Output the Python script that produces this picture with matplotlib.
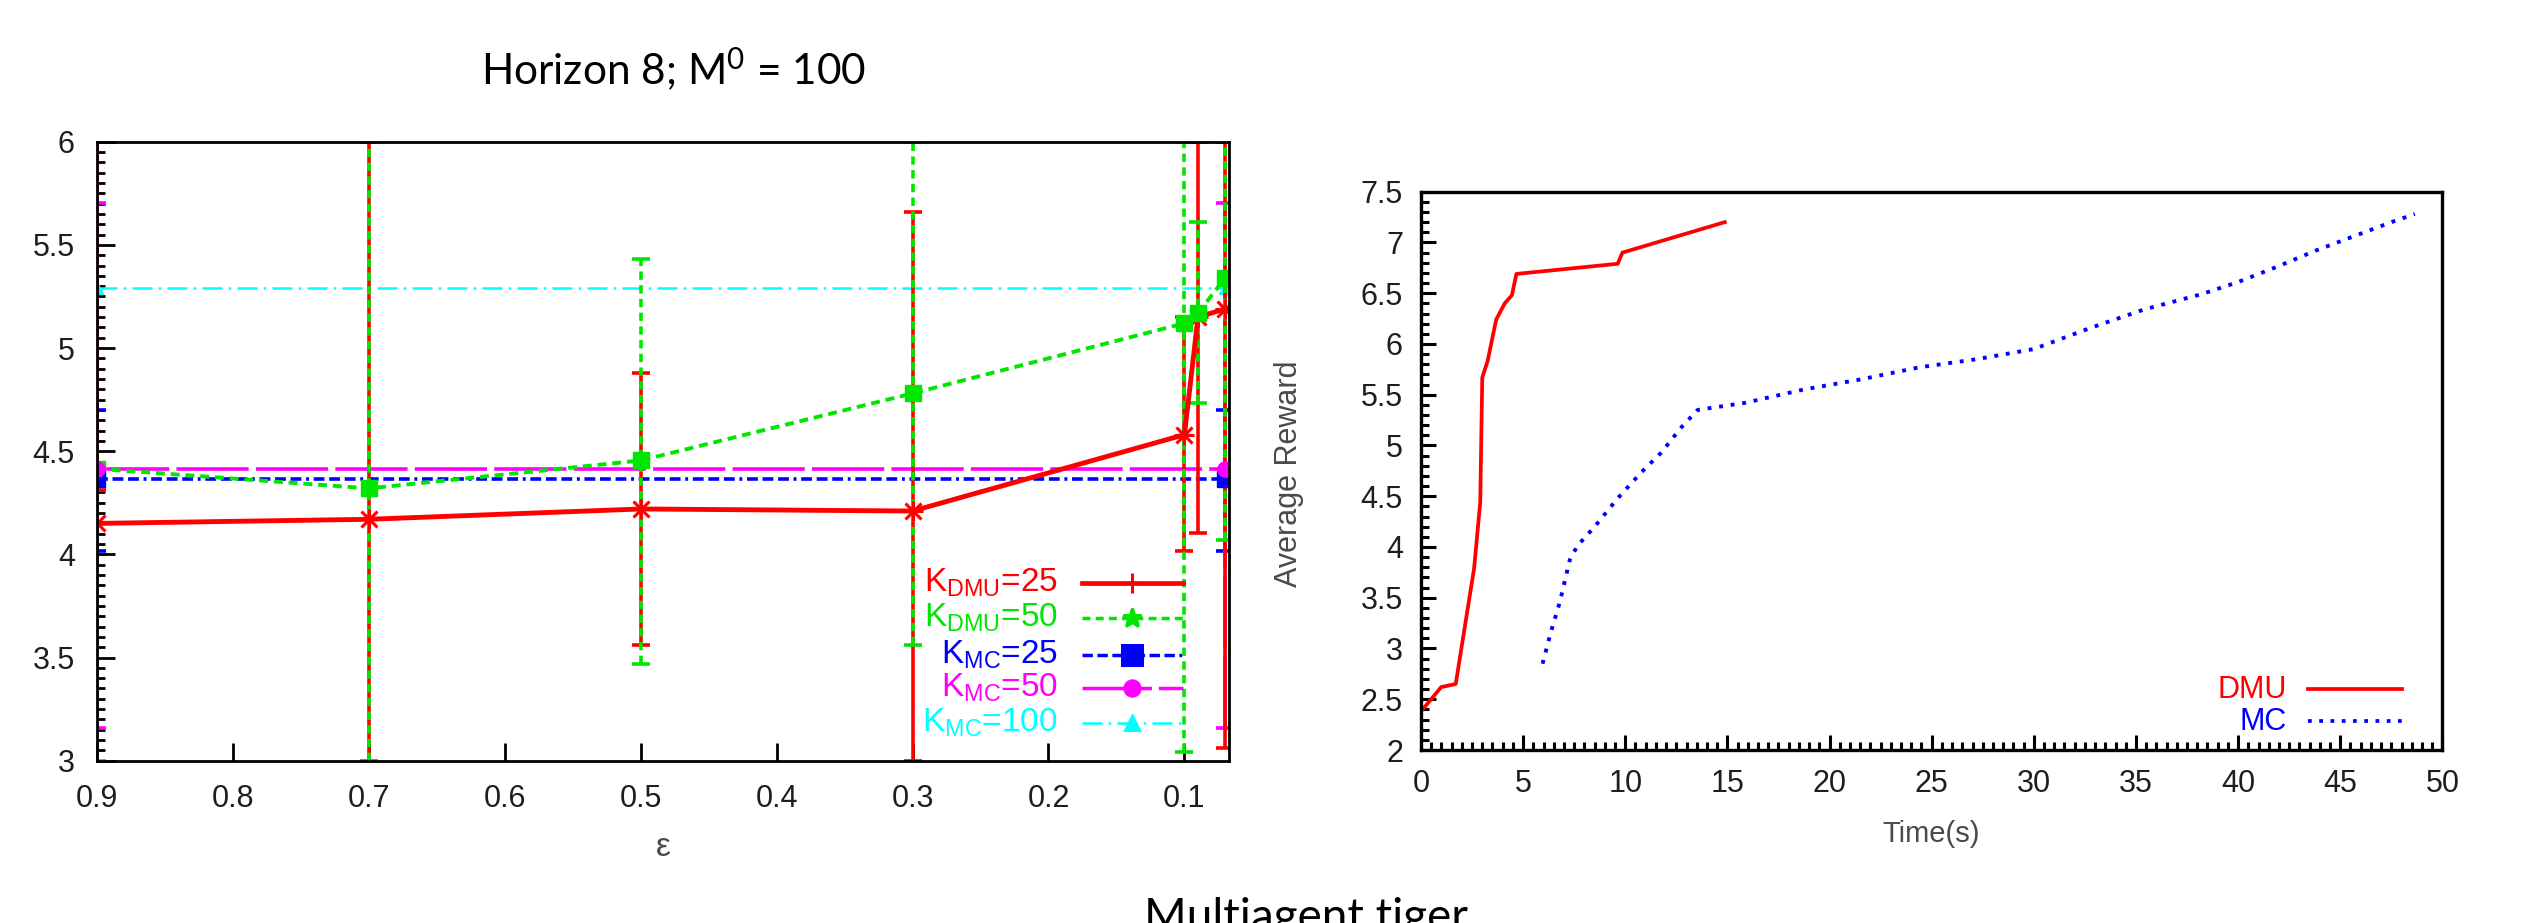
import matplotlib
matplotlib.use("Agg")
import matplotlib.pyplot as plt
from matplotlib.lines import Line2D
from matplotlib.ticker import MultipleLocator, FormatStrFormatter

plt.rcParams['font.family'] = ['Liberation Sans', 'DejaVu Sans']
plt.rcParams['mathtext.default'] = 'regular'

# ---------------- Left panel data (Horizon 8; M0 = 100) ----------------
eps = [0.9, 0.7, 0.5, 0.3, 0.1, 0.09, 0.07]
dmu25 = [4.15, 4.17, 4.22, 4.21, 4.58, 5.15, 5.19]
dmu25_lo = [4.31, 3.0, 3.56, 3.0, 4.015, 4.105, 3.06]
dmu25_hi = [6.0, 6.0, 4.88, 5.66, 5.15, 6.0, 6.0]
dmu50 = [4.415, 4.32, 4.455, 4.78, 5.12, 5.17, 5.34]
dmu50_lo = [3.0, 3.0, 3.47, 3.56, 3.04, 4.735, 4.07]
dmu50_hi = [4.415, 6.0, 5.43, 6.0, 6.0, 5.61, 6.6]
mc_eps = [0.9, 0.07]
mc25 = [4.366, 4.366]
mc25_lo = [4.015, 4.015]
mc25_hi = [4.70, 4.70]
mc50 = [4.415, 4.415]
mc50_lo = [3.16, 3.16]
mc50_hi = [5.705, 5.705]
mc100 = [5.293, 5.293]
left_xticks = [0.9, 0.8, 0.7, 0.6, 0.5, 0.4, 0.3, 0.2, 0.1]
left_yticks = [3, 3.5, 4, 4.5, 5, 5.5, 6]

# ---------------- Right panel data (Multiagent tiger) ----------------
dmu_t = [0, 0.99, 1.7, 2.6, 2.9, 3.0, 3.26, 3.68, 4.1, 4.45, 4.67, 9.63, 9.86, 14.87]
dmu_r = [2.38, 2.62, 2.65, 3.79, 4.44, 5.67, 5.83, 6.24, 6.40, 6.48, 6.69, 6.79, 6.90, 7.20]
mc_t = [5.95, 6.37, 6.8, 7.28, 7.65, 8.5, 9.63, 10.76, 11.76, 12.75, 13.54, 15.86,
        18.7, 21.5, 24.4, 27.2, 30.0, 32.8, 35.4, 38.2, 40.0, 41.9, 43.8, 45.65, 47.5, 48.65]
mc_r = [2.85, 3.17, 3.46, 3.87, 4.01, 4.20, 4.48, 4.73, 4.93, 5.18, 5.35, 5.42,
        5.55, 5.65, 5.77, 5.85, 5.95, 6.16, 6.34, 6.49, 6.61, 6.76, 6.92, 7.06, 7.20, 7.28]

RED, GREEN, BLUE, MAG, CYAN = '#ff0000', '#00e600', '#0000ff', '#ff00ff', '#00ffff'
TXT = '#1e1e1e'
LAB = '#4a4a4a'

W, H = 2521, 923
fig = plt.figure(figsize=(W / 100, H / 100), dpi=100)

def px_axes(x0, y0, x1, y1):
    return fig.add_axes([x0 / W, 1 - y1 / H, (x1 - x0) / W, (y1 - y0) / H])

# ======================= LEFT PANEL =======================
ax = px_axes(97, 141.7, 1228.6, 760.7)
lw = 2.6
ls_green = (0, (2.3, 1.5))
ls_blue = (0, (3, 1.3, 3, 1.3, 3, 1.3, 0.8, 1.3))
ls_mag = (0, (20, 2))
ls_cyan = (0, (8, 2.5, 1, 2.5))

# horizontal MC lines
ax.plot(mc_eps, mc100, color=CYAN, lw=1.8, ls=ls_cyan, marker='^', ms=9, zorder=3)
ax.plot(mc_eps, mc25, color=BLUE, lw=lw, ls=ls_blue, zorder=3)
ax.plot(mc_eps, mc50, color=MAG, lw=lw, ls=ls_mag, zorder=3)

def ebar(x, lo, hi, color, ls, z):
    ax.vlines(x, lo, hi, colors=color, linewidths=lw, linestyles=[ls], zorder=z)
    ax.plot(x, lo, lw=0, marker='_', ms=12.5, mew=lw, color=color, zorder=z)
    ax.plot(x, hi, lw=0, marker='_', ms=12.5, mew=lw, color=color, zorder=z)

ebar(mc_eps, mc25_lo, mc25_hi, BLUE, ls_blue, 4)
ebar(mc_eps, mc50_lo, mc50_hi, MAG, ls_mag, 4.2)
ebar(eps, dmu25_lo, dmu25_hi, RED, '-', 4.5)
ebar(eps, dmu50_lo, dmu50_hi, GREEN, ls_green, 4.8)

# DMU lines
ax.plot(eps, dmu25, color=RED, lw=3.5, zorder=5)
ax.plot(eps, dmu25, color=RED, lw=0, marker='+', ms=15, mew=2.2, zorder=5.1)
ax.plot(eps, dmu25, color=RED, lw=0, marker='x', ms=11, mew=2.2, zorder=5.1)
ax.plot(eps, dmu50, color=GREEN, lw=2.8, ls=ls_green, marker='s', ms=12, zorder=5.2)
ax.plot(mc_eps, mc25, color=BLUE, lw=0, marker='s', ms=12, zorder=5.3)
ax.plot(mc_eps, mc50, color=MAG, lw=0, marker='o', ms=11, zorder=5.4)

ax.set_xlim(0.9, 0.0675)
ax.set_ylim(3, 6)
ax.set_xticks(left_xticks)
ax.set_yticks(left_yticks)
ax.xaxis.set_major_formatter(FormatStrFormatter('%.1f'))
ax.set_yticklabels(['3', '3.5', '4', '4.5', '5', '5.5', '6'])
ax.yaxis.set_minor_locator(MultipleLocator(0.05))
ax.tick_params(axis='both', which='both', direction='in', top=False, right=False,
               labelsize=22, labelcolor=TXT, width=2.0, color='black')
ax.tick_params(axis='both', which='major', length=13)
ax.tick_params(axis='y', which='minor', length=5.5)
ax.tick_params(axis='y', which='major', pad=16)
ax.tick_params(axis='x', which='major', pad=17)
for s in ax.spines.values():
    s.set_linewidth(2.0)
    s.set_zorder(6)

# manual legend (text right-aligned, sample line to the right)
leg_rows = [(r'K$_{DMU}$=25', RED, '-', '+', 15, 2.5),
            (r'K$_{DMU}$=50', GREEN, ls_green, '*', 14, 2.5),
            (r'K$_{MC}$=25', BLUE, ls_blue, 's', 14, 2.5),
            (r'K$_{MC}$=50', MAG, ls_mag, 'o', 11, 2.5),
            (r'K$_{MC}$=100', CYAN, ls_cyan, '^', 10, 1.8)]
row_y = [0.2871, 0.2306, 0.1708, 0.1175, 0.0609]
for (lab, col, ls, mk, ms, lwl), yy in zip(leg_rows, row_y):
    ax.text(0.849, yy - 0.0135, lab, transform=ax.transAxes, ha='right', va='baseline',
            color=col, fontsize=24, zorder=7)
    ax.add_line(Line2D([0.8705, 0.9597], [yy, yy], transform=ax.transAxes, color=col,
                       lw=lwl + (0.9 if ls == '-' else 0), ls=ls, zorder=7))
    ax.add_line(Line2D([0.9146], [yy], transform=ax.transAxes, color=col, lw=0,
                       marker=mk, ms=ms, mew=2.2, zorder=7))

fig.text(663 / W, 1 - 847 / H, 'ε', ha='center', va='center', fontsize=24, color=LAB)

# ======================= RIGHT PANEL =======================
bx = px_axes(1421, 191.7, 2442.4, 750)
bx.plot(dmu_t, dmu_r, color=RED, lw=2.7, label='DMU')
bx.plot(mc_t, mc_r, color=BLUE, lw=2.8, ls=(0, (1, 2.0)), label='MC')
bx.set_xlim(0, 50)
bx.set_ylim(2, 7.5)
bx.set_xticks(range(0, 51, 5))
bx.set_yticks([2, 2.5, 3, 3.5, 4, 4.5, 5, 5.5, 6, 6.5, 7, 7.5])
bx.set_yticklabels(['2', '2.5', '3', '3.5', '4', '4.5', '5', '5.5', '6', '6.5', '7', '7.5'])
bx.xaxis.set_minor_locator(MultipleLocator(0.5))
bx.yaxis.set_minor_locator(MultipleLocator(0.1))
bx.tick_params(axis='both', which='both', direction='in', top=False, right=False,
               labelsize=22, labelcolor=TXT, width=2.2, color='black')
bx.tick_params(axis='both', which='major', length=11)
bx.tick_params(axis='both', which='minor', length=6)
bx.tick_params(axis='y', which='major', pad=13)
bx.tick_params(axis='x', which='major', pad=14)
for s in bx.spines.values():
    s.set_linewidth(2.4)

for lab, col, ls, yy in [('DMU', RED, '-', 0.109), ('MC', BLUE, (0, (1, 2.0)), 0.052)]:
    bx.text(0.848, yy - 0.016, lab, transform=bx.transAxes, ha='right', va='baseline',
            color=col, fontsize=22)
    bx.add_line(Line2D([0.868, 0.96], [yy, yy], transform=bx.transAxes, color=col,
                       lw=2.7, ls=ls))

fig.text(1931 / W, 1 - 834 / H, 'Time(s)', ha='center', va='center', fontsize=21, color=LAB)
fig.text(1289 / W, 1 - 474 / H, 'Average Reward', ha='center', va='center', rotation=90,
         fontsize=22, color=LAB)

# ======================= Slide titles =======================
fig.text(673 / W, 1 - 85 / H, r'Horizon 8; M$^0$ = 100', ha='center', va='baseline',
         fontsize=30.5, family='Lato', color='black')
fig.text(1306 / W, 1 - 931 / H, 'Multiagent tiger', ha='center', va='baseline',
         fontsize=33, family='Lato', color='black')

fig.savefig('out.png', dpi=100, facecolor='white')
